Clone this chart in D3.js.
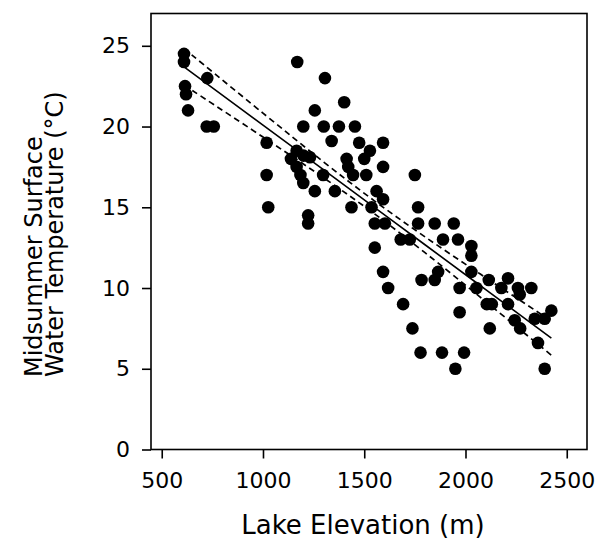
<!DOCTYPE html>
<html><head><meta charset="utf-8">
<script src="https://cdn.jsdelivr.net/npm/d3@7"></script>
<style>body{margin:0;background:#fff}svg{display:block}</style>
</head><body>
<svg id="c" width="601" height="542"></svg>
<script>
// Data: lake elevation (m) and midsummer surface water temperature (°C)
const elevation = [610,610,615,620,630,725,722,757,
  1018,1018,1026,
  1169,1306,1256,1401,1199,1300,1375,1454,1339,1475,1593,
  1138,1166,1200,1232,1166,1185,1199,1256,1297,1355,1223,1223,
  1413,1421,1445,1500,1510,1528,1593,
  1437,1536,1561,1593,1552,1602,1552,1593,1618,
  1750,1766,1766,1848,1942,1680,1725,1889,1963,
  2029,2029,2029,1865,1783,1848,1971,2054,2115,
  2105,2130,1692,1971,1738,2120,1778,1884,1993,1950,
  2210,2177,2259,2268,2325,2210,2243,2270,2342,2391,2424,2358,2391];
const temperature = [24.5,24.0,22.5,22.0,21.0,23.0,20.0,20.0,
  19.0,17.0,15.0,
  24.0,23.0,21.0,21.5,20.0,20.0,20.0,20.0,19.1,19.0,19.0,
  18.0,18.5,18.2,18.1,17.5,17.0,16.5,16.0,17.0,16.0,14.5,14.0,
  18.0,17.5,17.0,18.0,17.0,18.5,17.5,
  15.0,15.0,16.0,15.5,14.0,14.0,12.5,11.0,10.0,
  17.0,15.0,14.0,14.0,14.0,13.0,13.0,13.0,13.0,
  12.6,12.0,11.0,11.0,10.5,10.5,10.0,10.0,10.5,
  9.0,9.0,9.0,8.5,7.5,7.5,6.0,6.0,6.0,5.0,
  10.6,10.0,10.0,9.6,10.0,9.0,8.0,7.5,8.1,8.1,8.6,6.6,5.0];
// Regression line and 95% confidence band
const fitX = [610,1000,1300,1550,1800,2100,2424];
const fitY = [23.7,20.09,17.31,15.0,12.68,9.9,6.9];
const upperY = [24.83,20.83,17.80,15.4,13.17,10.64,7.96];
const lowerY = [22.57,19.35,16.82,14.6,12.19,9.16,5.84];
const xTicks = [500,1000,1500,2000,2500];
const yTicks = [0,5,10,15,20,25];
const xTitle = "Lake Elevation (m)";
const yTitle = ["Midsummer Surface","Water Temperature (°C)"];

const svg = d3.select("#c");
const L=151, R=587, T=13.5, B=449.5;
const x = d3.scaleLinear().domain([447,2600]).range([L,R]);
const y = d3.scaleLinear().domain([0,27]).range([B,T]);
const font = "'DejaVu Sans', sans-serif";

// frame
svg.append("rect").attr("x",L).attr("y",T).attr("width",R-L).attr("height",B-T)
  .attr("fill","none").attr("stroke","#000").attr("stroke-width",1.6);

// axes
const gx = svg.append("g").attr("transform",`translate(0,${B})`)
  .call(d3.axisBottom(x).tickValues(xTicks).tickSize(9).tickPadding(14).tickFormat(d3.format("d")));
const gy = svg.append("g").attr("transform",`translate(${L},0)`)
  .call(d3.axisLeft(y).tickValues(yTicks).tickSize(9).tickPadding(12).tickFormat(d3.format("d")));
[gx,gy].forEach(g=>{
  g.select(".domain").remove();
  g.selectAll(".tick line").attr("stroke","#000").attr("stroke-width",1.6);
  g.selectAll(".tick text").attr("fill","#000").style("font-family",font).style("font-size","22px");
});

// points
const pts = elevation.map((e,i)=>({e, t: temperature[i]}));
svg.append("g").selectAll("circle").data(pts).join("circle")
  .attr("cx",d=>x(d.e)).attr("cy",d=>y(d.t)).attr("r",6.3).attr("fill","#000");

// lines
const lineGen = d3.line().x(d=>x(d[0])).y(d=>y(d[1])).curve(d3.curveCatmullRom);
svg.append("path").datum(fitX.map((v,i)=>[v,fitY[i]])).attr("d",lineGen)
  .attr("fill","none").attr("stroke","#000").attr("stroke-width",1.6);
[upperY,lowerY].forEach(arr=>{
  svg.append("path").datum(fitX.map((v,i)=>[v,arr[i]])).attr("d",lineGen)
    .attr("fill","none").attr("stroke","#000").attr("stroke-width",1.7).attr("stroke-dasharray","6,4");
});

// titles
svg.append("text").attr("x",363).attr("y",534).attr("text-anchor","middle")
  .style("font-family",font).style("font-size","26px").text(xTitle);
const yt = svg.append("text").attr("transform","translate(42,377) rotate(-90)")
  .style("font-family",font).style("font-size","24px");
yt.append("tspan").attr("x",0).attr("y",0).text(yTitle[0]);
yt.append("tspan").attr("x",0).attr("y",21).text(yTitle[1]);
</script>
</body></html>
